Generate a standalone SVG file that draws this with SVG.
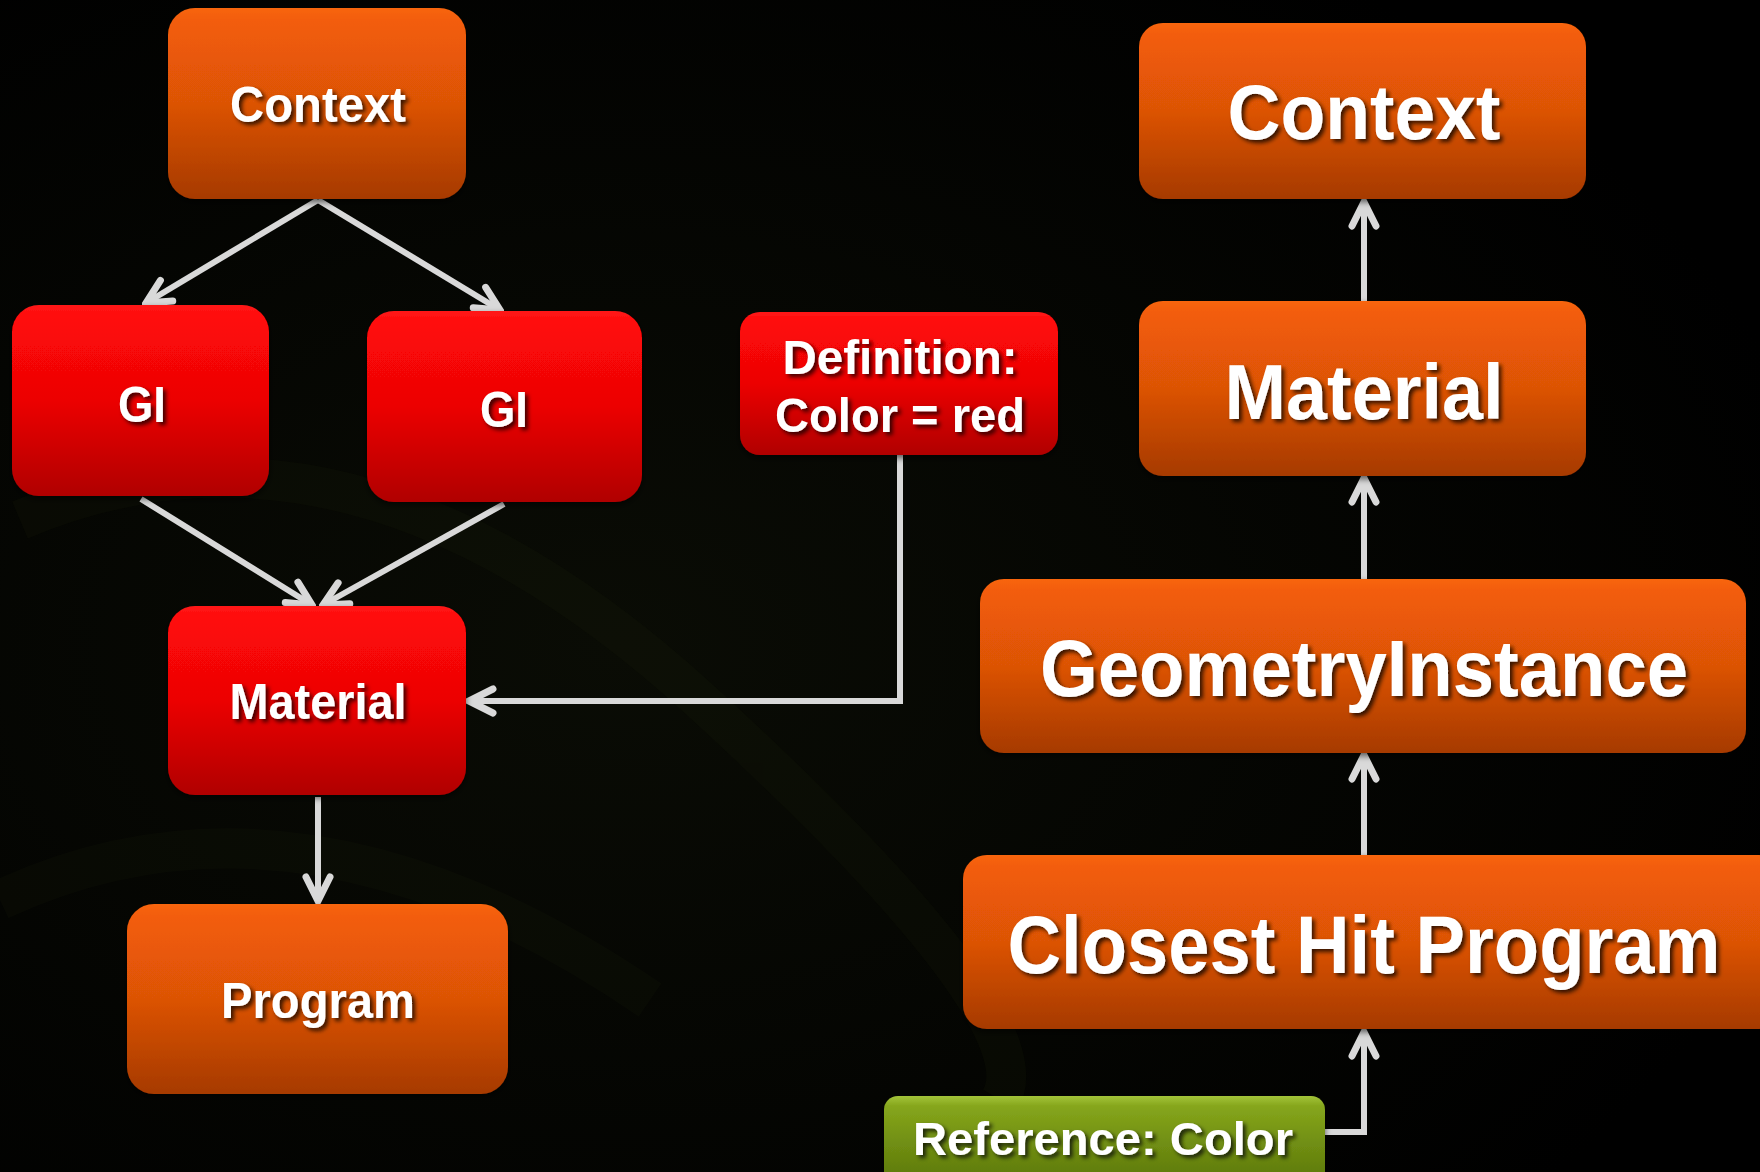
<svg xmlns="http://www.w3.org/2000/svg" width="1760" height="1172" viewBox="0 0 1760 1172">
<defs>
<radialGradient id="bg" cx="0.35" cy="0.55" r="0.7">
<stop offset="0" stop-color="#0a0c05"/>
<stop offset="1" stop-color="#000000"/>
</radialGradient>
<linearGradient id="gOrange" x1="0" y1="0" x2="0" y2="1">
<stop offset="0" stop-color="#f8660c"/>
<stop offset="0.06" stop-color="#f35d08"/>
<stop offset="0.5" stop-color="#dc5306"/>
<stop offset="1" stop-color="#a63a04"/>
</linearGradient>
<linearGradient id="gRed" x1="0" y1="0" x2="0" y2="1">
<stop offset="0" stop-color="#ff1a1a"/>
<stop offset="0.06" stop-color="#ff0808"/>
<stop offset="0.5" stop-color="#ec0505"/>
<stop offset="1" stop-color="#b00000"/>
</linearGradient>
<linearGradient id="gGreen" x1="0" y1="0" x2="0" y2="1">
<stop offset="0" stop-color="#a3c43a"/>
<stop offset="0.1" stop-color="#86a61c"/>
<stop offset="0.5" stop-color="#6f8d12"/>
<stop offset="1" stop-color="#55700a"/>
</linearGradient>
<filter id="tsh" x="-10%" y="-30%" width="120%" height="160%">
<feDropShadow dx="3" dy="3" stdDeviation="2" flood-color="#000" flood-opacity="0.75"/>
</filter>
<filter id="bsh" x="-10%" y="-10%" width="120%" height="130%">
<feDropShadow dx="0" dy="3" stdDeviation="3" flood-color="#000" flood-opacity="0.6"/>
</filter>
<marker id="chev" viewBox="-30 -16 34 32" refX="0" refY="0" markerWidth="34" markerHeight="32" markerUnits="userSpaceOnUse" orient="auto">
<path d="M -24 -12 L 0 0 L -24 12" fill="none" stroke="#d9d9d9" stroke-width="7" stroke-linecap="round" stroke-linejoin="miter"/>
</marker>
</defs>
<style>
.box { filter: url(#bsh); }
.or { fill: url(#gOrange); }
.rd { fill: url(#gRed); }
.gr { fill: url(#gGreen); }
text { font-family: "Liberation Sans", Arial, sans-serif; font-weight: bold; fill: #ffffff; text-anchor: middle; filter: url(#tsh); }
.conn { fill: none; stroke: #d9d9d9; stroke-width: 6; }
</style>
<rect x="0" y="0" width="1760" height="1172" fill="url(#bg)"/>
<g opacity="0.18" fill="none" stroke="#1a1f0c" stroke-width="40">
<path d="M 20 520 Q 350 380 700 700 T 1000 1100"/>
<path d="M 0 900 Q 300 760 650 1000"/>
</g>

<g id="connectors">
<line class="conn" x1="318" y1="200" x2="146" y2="303" marker-end="url(#chev)"/>
<line class="conn" x1="318" y1="200" x2="500" y2="310" marker-end="url(#chev)"/>
<line class="conn" x1="141" y1="499" x2="312" y2="605" marker-end="url(#chev)"/>
<line class="conn" x1="504" y1="504" x2="323" y2="605" marker-end="url(#chev)"/>
<line class="conn" x1="318" y1="797" x2="318" y2="901" marker-end="url(#chev)"/>
<polyline class="conn" points="900,455 900,701 469,701" marker-end="url(#chev)"/>
<line class="conn" x1="1364" y1="301" x2="1364" y2="202" marker-end="url(#chev)"/>
<line class="conn" x1="1364" y1="579" x2="1364" y2="478" marker-end="url(#chev)"/>
<line class="conn" x1="1364" y1="855" x2="1364" y2="755" marker-end="url(#chev)"/>
<polyline class="conn" points="1325,1132 1364,1132 1364,1032" marker-end="url(#chev)"/>
</g>

<g id="context-left" class="box">
<rect class="or" x="168" y="8" width="298" height="191" rx="27"/>
<text x="318" y="122" font-size="50" textLength="176" lengthAdjust="spacingAndGlyphs">Context</text>
</g>
<g id="gi-left" class="box">
<rect class="rd" x="12" y="305" width="257" height="191" rx="27"/>
<text x="142" y="422" font-size="50" textLength="48" lengthAdjust="spacingAndGlyphs">GI</text>
</g>
<g id="gi-right" class="box">
<rect class="rd" x="367" y="311" width="275" height="191" rx="27"/>
<text x="504" y="427" font-size="50" textLength="48" lengthAdjust="spacingAndGlyphs">GI</text>
</g>
<g id="definition" class="box">
<rect class="rd" x="740" y="312" width="318" height="143" rx="20"/>
<text x="900" y="374" font-size="48" textLength="235" lengthAdjust="spacingAndGlyphs">Definition:</text>
<text x="900" y="432" font-size="48" textLength="250" lengthAdjust="spacingAndGlyphs">Color = red</text>
</g>
<g id="material-left" class="box">
<rect class="rd" x="168" y="606" width="298" height="189" rx="27"/>
<text x="318" y="719" font-size="50" textLength="177" lengthAdjust="spacingAndGlyphs">Material</text>
</g>
<g id="program" class="box">
<rect class="or" x="127" y="904" width="381" height="190" rx="27"/>
<text x="318" y="1018" font-size="50" textLength="194" lengthAdjust="spacingAndGlyphs">Program</text>
</g>

<g id="context-right" class="box">
<rect class="or" x="1139" y="23" width="447" height="176" rx="24"/>
<text x="1364" y="139" font-size="77" textLength="273" lengthAdjust="spacingAndGlyphs">Context</text>
</g>
<g id="material-right" class="box">
<rect class="or" x="1139" y="301" width="447" height="175" rx="24"/>
<text x="1364" y="419" font-size="77" textLength="279" lengthAdjust="spacingAndGlyphs">Material</text>
</g>
<g id="geometryinstance" class="box">
<rect class="or" x="980" y="579" width="766" height="174" rx="24"/>
<text x="1364" y="696" font-size="80" textLength="648" lengthAdjust="spacingAndGlyphs">GeometryInstance</text>
</g>
<g id="closest-hit-program" class="box">
<rect class="or" x="963" y="855" width="820" height="174" rx="24"/>
<text x="1364" y="973" font-size="82" textLength="713" lengthAdjust="spacingAndGlyphs">Closest Hit Program</text>
</g>
<g id="reference" class="box">
<rect class="gr" x="884" y="1096" width="441" height="100" rx="14"/>
<text x="1103" y="1155" font-size="46" textLength="380" lengthAdjust="spacingAndGlyphs">Reference: Color</text>
</g>
</svg>
